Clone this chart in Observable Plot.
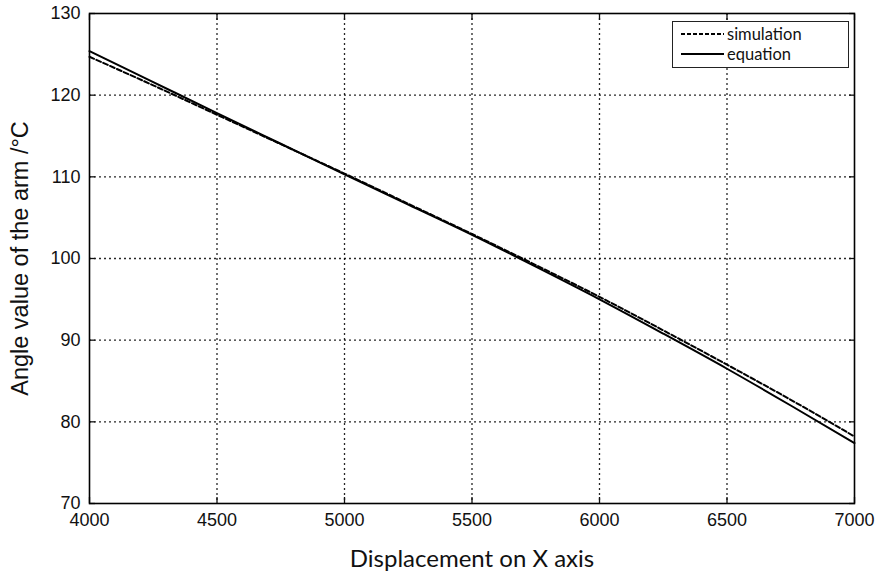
<!DOCTYPE html>
<html>
<head>
<meta charset="utf-8">
<script src="https://cdn.jsdelivr.net/npm/d3@7"></script>
<script src="https://cdn.jsdelivr.net/npm/@observablehq/plot@0.6"></script>
<style>
  html, body { margin: 0; padding: 0; background: #fff; }
  #wrap { position: relative; width: 880px; height: 575px; }
  #legend {
    position: absolute; left: 672px; top: 21px; width: 177px; height: 47px;
    border: 1.3px solid #222; background: #fff; box-sizing: border-box;
    font-family: Lato, "Open Sans", sans-serif; font-size: 16.5px; color: #111;
  }
  #legend .row { position: absolute; left: 8px; height: 20px; display: flex; align-items: center; white-space: nowrap; }
  #legend svg { margin-right: 3px; }
</style>
</head>
<body>
<div id="wrap"></div>
<script>
const displacement = [4000, 4250, 4500, 4750, 5000, 5250, 5500, 5750, 6000, 6250, 6500, 6750, 7000];
const simulation   = [124.7, 121.2, 117.6, 114.0, 110.4, 106.7, 103.0, 99.2, 95.3, 91.2, 87.0, 82.7, 78.2];
const equation     = [125.4, 121.6, 117.8, 114.05, 110.3, 106.6, 102.9, 99.0, 95.0, 90.8, 86.5, 82.0, 77.4];
const xTicks = [4000, 4500, 5000, 5500, 6000, 6500, 7000];
const yTicks = [70, 80, 90, 100, 110, 120, 130];
const seriesNames = ["simulation", "equation"];
const xTitle = "Displacement on X axis";
const yTitle = "Angle value of the arm /°C";

const rows = [];
displacement.forEach((x, i) => {
  rows.push({x, y: simulation[i], s: seriesNames[0]});
  rows.push({x, y: equation[i], s: seriesNames[1]});
});

const tickFont = "'Liberation Sans', Arial, sans-serif";
const gridStyle = { stroke: "#000", strokeOpacity: 0.85, strokeDasharray: "2,3", strokeWidth: 1.3 };

const chart = Plot.plot({
  width: 880,
  height: 575,
  marginLeft: 89,
  marginRight: 26,
  marginTop: 13,
  marginBottom: 72,
  style: { fontFamily: tickFont, background: "#fff", color: "#111" },
  x: { domain: [4000, 7000] },
  y: { domain: [70, 130] },
  marks: [
    Plot.gridX(xTicks.slice(1, -1), gridStyle),
    Plot.gridY(yTicks.slice(1, -1), gridStyle),
    Plot.axisX(xTicks, { anchor: "bottom", tickSize: 0, tickPadding: 10, fontSize: 18, fontFamily: tickFont, tickFormat: d => String(d), label: null }),
    Plot.axisY(yTicks, { anchor: "left", tickSize: 0, tickPadding: 9, fontSize: 18, fontFamily: tickFont, tickFormat: d => String(d), label: null }),
    Plot.axisX(xTicks, { anchor: "bottom", tickSize: -6, text: null, label: null, strokeWidth: 1.3 }),
    Plot.axisX(xTicks, { anchor: "top", tickSize: -6, text: null, label: null, strokeWidth: 1.3 }),
    Plot.axisY(yTicks, { anchor: "left", tickSize: -6, text: null, label: null, strokeWidth: 1.3 }),
    Plot.axisY(yTicks, { anchor: "right", tickSize: -6, text: null, label: null, strokeWidth: 1.3 }),
    Plot.line(rows.filter(d => d.s === "equation"), { x: "x", y: "y", stroke: "#000", strokeWidth: 2, curve: "monotone-x" }),
    Plot.line(rows.filter(d => d.s === "simulation"), { x: "x", y: "y", stroke: "#000", strokeWidth: 2, strokeDasharray: "5,2.5", curve: "monotone-x" }),
    Plot.frame({ stroke: "#000", strokeWidth: 1.6 }),
    Plot.text([xTitle], { frameAnchor: "bottom", lineAnchor: "middle", dy: 56, fontSize: 24, fontFamily: "Lato, 'Open Sans', sans-serif", fill: "#111" }),
    Plot.text([yTitle], { frameAnchor: "left", textAnchor: "middle", dx: -69, rotate: -90, fontSize: 23.5, fontFamily: tickFont, fill: "#111" })
  ]
});

const wrap = document.getElementById("wrap");
wrap.appendChild(chart);

const legend = document.createElement("div");
legend.id = "legend";
legend.innerHTML = `
  <div class="row" style="top:2px"><svg width="43" height="4"><line x1="0" y1="2" x2="43" y2="2" stroke="#000" stroke-width="2" stroke-dasharray="4,2"/></svg>${seriesNames[0]}</div>
  <div class="row" style="top:22px"><svg width="43" height="4"><line x1="0" y1="2" x2="43" y2="2" stroke="#000" stroke-width="2"/></svg>${seriesNames[1]}</div>`;
wrap.appendChild(legend);
</script>
</body>
</html>
